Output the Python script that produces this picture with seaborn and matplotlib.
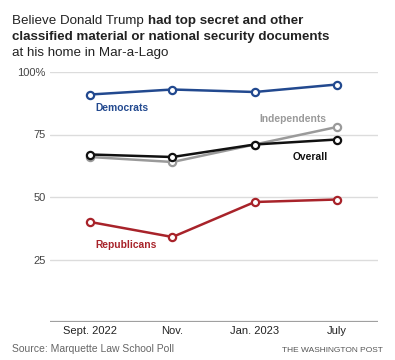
import matplotlib
matplotlib.use("Agg")
import matplotlib.pyplot as plt
import seaborn as sns
import pandas as pd

# Dati
waves = ["Sept. 2022", "Nov.", "Jan. 2023", "July"]
democrats = [91, 93, 92, 95]
independents = [66, 64, 71, 78]
overall = [67, 66, 71, 73]
republicans = [40, 34, 48, 49]

yticks = [25, 50, 75, 100]
ytick_labels = ["25", "50", "75", "100%"]

colors = {
    "Independents": "#9a9a9a",
    "Democrats": "#22498f",
    "Republicans": "#a8232a",
    "Overall": "#111111",
}

series = {
    "Independents": independents,
    "Democrats": democrats,
    "Republicans": republicans,
    "Overall": overall,
}
rows = []
for name, vals in series.items():
    for i, v in enumerate(vals):
        rows.append({"wave": i, "group": name, "value": v})
df = pd.DataFrame(rows)

sns.set_style("white")
plt.rcParams["font.family"] = ["Liberation Sans", "DejaVu Sans"]

fig = plt.figure(figsize=(3.95, 3.6), dpi=100)
ax = fig.add_axes([50 / 395, 1 - 322 / 360, 328 / 395, 250 / 360])

for y in yticks:
    ax.axhline(y, color="#dcdcdc", lw=1, zorder=0)
ax.axhline(0, color="#a0a0a0", lw=1.6, zorder=1)

n_before = len(ax.lines)
sns.lineplot(data=df, x="wave", y="value", hue="group", hue_order=list(series.keys()),
             palette=colors, marker="o", legend=False, ax=ax, linewidth=1.8)

# marcatori vuoti col bordo del colore della linea
for line in ax.lines[n_before:]:
    c = line.get_color()
    line.set_marker("o")
    line.set_markersize(5.2)
    line.set_markerfacecolor("white")
    line.set_markeredgecolor(c)
    line.set_markeredgewidth(1.6)
    line.set_clip_on(False)

ax.set_xlim(-0.49, 3.5)
ax.set_ylim(0, 100)
ax.set_xticks(range(len(waves)))
ax.set_xticklabels(waves, fontsize=8, color="#222222")
ax.set_yticks(yticks)
ax.set_yticklabels(ytick_labels, fontsize=8, color="#444444")
ax.tick_params(axis="both", length=0, pad=3)
ax.set_xlabel("")
ax.set_ylabel("")
for s in ax.spines.values():
    s.set_visible(False)

# Etichette delle serie
lab = dict(fontsize=7.4, weight="bold", va="center")
ax.text(0.06, 85.5, "Democrats", color=colors["Democrats"], **lab)
ax.text(2.06, 81, "Independents", color=colors["Independents"], **lab)
ax.text(2.46, 66, "Overall", color=colors["Overall"], **lab)
ax.text(0.06, 31, "Republicans", color=colors["Republicans"], **lab)

# Titolo con parti in grassetto
fig.canvas.draw()
r = fig.canvas.get_renderer()
t1 = fig.text(12 / 395, 1 - 24 / 360, "Believe Donald Trump ", fontsize=9.6, color="#222222")
bb = t1.get_window_extent(renderer=r)
fig.text(bb.x1 / fig.bbox.width, 1 - 24 / 360, "had top secret and other",
         fontsize=9.6, weight="bold", color="#222222")
fig.text(12 / 395, 1 - 40 / 360, "classified material or national security documents",
         fontsize=9.6, weight="bold", color="#222222")
fig.text(12 / 395, 1 - 56 / 360, "at his home in Mar-a-Lago", fontsize=9.6, color="#222222")

fig.text(12 / 395, 1 - 352 / 360, "Source: Marquette Law School Poll", fontsize=7.5, color="#666666")
fig.text(383 / 395, 1 - 352 / 360, "THE WASHINGTON POST", fontsize=6, color="#555555", ha="right")

fig.savefig("out.png", dpi=100)
